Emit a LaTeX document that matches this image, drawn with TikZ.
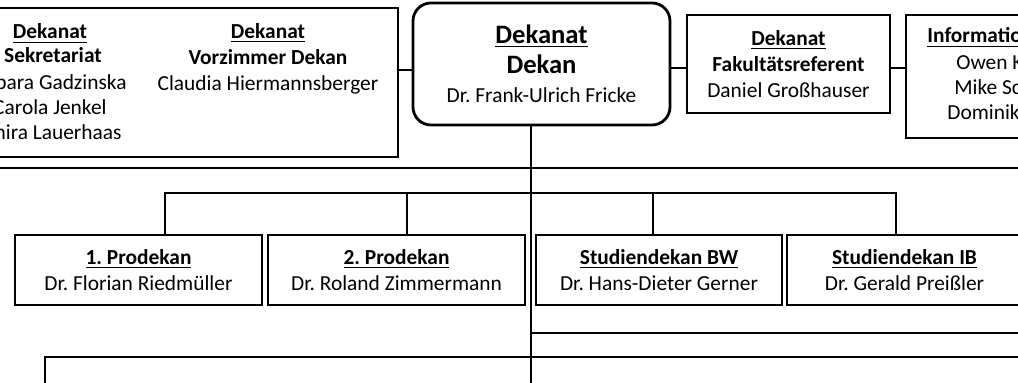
\documentclass[tikz,border=0pt]{standalone}
\usepackage{fontspec}
\setmainfont{Carlito}
\frenchspacing

\newcommand{\uhead}[1]{\textbf{\underline{#1}}}

\tikzset{
  org/.style={
    x=0.5pt,
    y=-0.5pt
  },
  txt/.style={
    inner sep=0pt,
    align=center,
    font=\fontsize{10.7}{13}\selectfont
  },
  box/.style={
    txt,
    draw,
    line width=1.4pt
  },
  head box/.style={
    box,
    rounded corners=9pt,
    font=\fontsize{10.7}{14.8}\selectfont
  },
  link/.style={
    line width=1.2pt
  }
}

\begin{document}
\begin{tikzpicture}[org]
    \useasboundingbox (0,0) rectangle (1018,383);
    \clip (0,0) rectangle (1018,383);
    % upper row
    \node[box, minimum width=209pt, minimum height=74.5pt] at (189,82.5) (sek) {};
    \node[head box, minimum width=128.5pt, minimum height=61pt] at (541.5,64) (dekan)
      {{\fontsize{13.3}{15}\selectfont\uhead{Dekanat}}\\{\fontsize{13.3}{15}\selectfont\textbf{Dekan}}\\Dr. Frank-Ulrich Fricke};
    \node[box, minimum width=101.5pt, minimum height=49pt] at (788.5,64) (fak)
      {\uhead{Dekanat}\\\textbf{Fakultätsreferent}\\Daniel Großhauser};
    \node[box, minimum width=107pt, minimum height=61.5pt] at (1013,76.5) (info) {};
    % texts cut by the edge
    \node[txt, anchor=base] at (50,39) (s1) {\uhead{Dekanat}};
    \node[txt, anchor=base] at (53,63) (s2) {\textbf{Sekretariat}};
    \node[txt, anchor=base east] at (127,90) (s3) {rbara Gadzinska};
    \node[txt, anchor=base east] at (107,115) (s4) {Carola Jenkel};
    \node[txt, anchor=base east] at (122,140) (s5) {hira Lauerhaas};
    \node[txt] at (268,59) (vz) {\uhead{Dekanat}\\\textbf{Vorzimmer Dekan}\\Claudia Hiermannsberger};
    \node[txt, anchor=base west] at (927,43) (i1) {\uhead{Informatio}};
    \node[txt, anchor=base west] at (956,70) (i2) {Owen K};
    \node[txt, anchor=base west] at (954,95) (i3) {Mike Sc};
    \node[txt, anchor=base west] at (947,120) (i4) {Dominik};
    % lower row
    \node[box, minimum width=123.5pt, minimum height=35pt] at (138.5,270) (pro1)
      {\uhead{1. Prodekan}\\Dr. Florian Riedmüller};
    \node[box, minimum width=128.5pt, minimum height=35pt] at (396.5,270) (pro2)
      {\uhead{2. Prodekan}\\Dr. Roland Zimmermann};
    \node[box, minimum width=123pt, minimum height=35pt] at (659,270) (sbw)
      {\uhead{Studiendekan BW}\\Dr. Hans-Dieter Gerner};
    \node[box, minimum width=117.5pt, minimum height=35pt] at (904.5,270) (sib)
      {\uhead{Studiendekan IB}\\Dr. Gerald Preißler};
    % lines
    \coordinate (spine) at (531,390);
    \coordinate (staffL) at (-10,168);
    \coordinate (staffR) at (1030,168);
    \draw[link] (sek.east |- 0,70) -- (dekan.west |- 0,70);
    \draw[link] (dekan.east |- 0,68) -- (fak.west |- 0,68);
    \draw[link] (fak.east |- 0,68) -- (info.west |- 0,68);
    \draw[link] (dekan.south -| spine) -- (spine);
    \draw[link] (staffL) -- (staffR);
    \draw[link] (pro1.north -| 165,0) -- (165,193) -| (sib.north -| 896,0);
    \draw[link] (pro2.north -| 407,0) -- (407,193);
    \draw[link] (sbw.north -| 653,0) -- (653,193);
    \draw[link] (spine |- 0,333) -- (1030,333);
    \draw[link] (45,390) |- (1030,357);
\end{tikzpicture}
\end{document}
